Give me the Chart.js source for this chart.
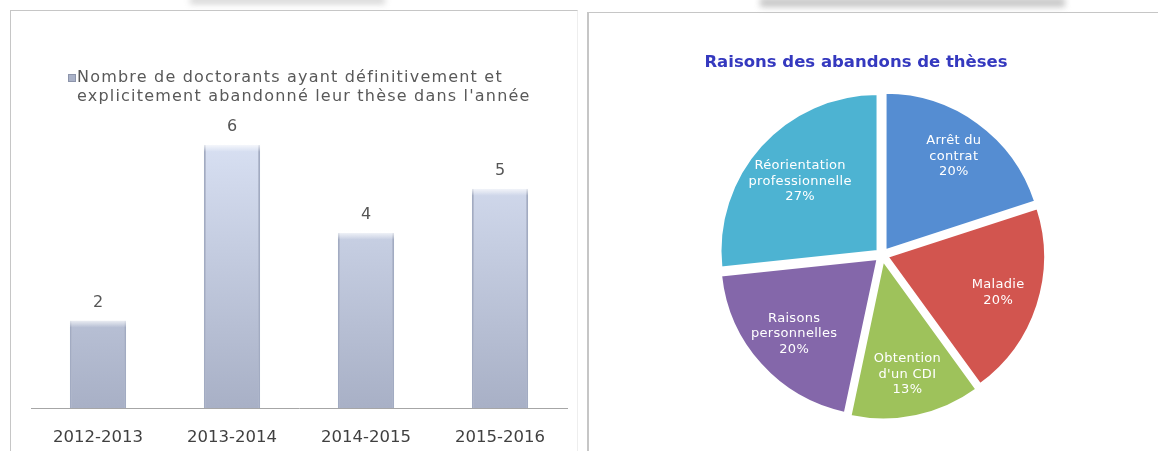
<!DOCTYPE html>
<html>
<head>
<meta charset="utf-8">
<script src="https://cdn.jsdelivr.net/npm/chart.js@4.4.0/dist/chart.umd.min.js"></script>
<style>
  body { margin: 0; width: 1158px; height: 451px; background: #fff; position: relative; overflow: hidden; }
  .box { position: absolute; box-sizing: border-box; }
  #leftBox { left: 10px; top: 10px; width: 568px; height: 441px; border-left: 1px solid #c6c6c6; border-top: 1px solid #c6c6c6; border-right: 1px solid #eeeeee; }
  #rightBox { left: 587px; top: 12px; width: 571px; height: 439px; border-left: 2px solid #c6c6c6; border-top: 1px solid #c6c6c6; }
  .smudge { position: absolute; background: #a0a0a0; filter: blur(3px); }
  canvas { position: absolute; }
  #barChart { left: 11px; top: 11px; }
  #pieChart { left: 588px; top: 12px; }
</style>
</head>
<body>
<div class="smudge" style="left:190px;top:-3px;width:195px;height:7px;opacity:.45"></div>
<div class="smudge" style="left:760px;top:-2px;width:305px;height:9px;opacity:.6"></div>
<div class="box" id="leftBox"></div>
<div class="box" id="rightBox"></div>
<canvas id="barChart" width="566" height="462"></canvas>
<canvas id="pieChart" width="570" height="439"></canvas>
<script>
// bar chart data
const years = ['2012-2013', '2013-2014', '2014-2015', '2015-2016'];
const abandons = [2, 6, 4, 5];
const legendLines = ['Nombre de doctorants ayant définitivement et', 'explicitement abandonné leur thèse dans l\'année'];

// pie chart data
const raisons = [['Arrêt du', 'contrat'], ['Maladie'], ['Obtention', 'd\'un CDI'], ['Raisons', 'personnelles'], ['Réorientation', 'professionnelle']];
const raisonsCount = [3, 3, 2, 3, 4];
const raisonsColors = ['#558dd2', '#d2554f', '#9ec25b', '#8467aa', '#4db3d2'];
const pieTitle = 'Raisons des abandons de thèses';

const barDeco = {
    id: 'barDeco',
    afterDatasetsDraw(chart) {
        const ctx = chart.ctx;
        const meta = chart.getDatasetMeta(0);
        ctx.save();
        meta.data.forEach((bar, i) => {
            const w = bar.width;
            // light cap on top of each bar
            const g = ctx.createLinearGradient(0, bar.y - 2, 0, bar.y + 7);
            g.addColorStop(0, 'rgba(255,255,255,0.95)');
            g.addColorStop(1, 'rgba(255,255,255,0)');
            ctx.fillStyle = g;
            ctx.fillRect(bar.x - w / 2 - 1, bar.y - 2, w + 2, 9);
            ctx.fillStyle = '#555';
            ctx.font = '16px "DejaVu Sans"';
            ctx.textAlign = 'center';
            ctx.textBaseline = 'middle';
            ctx.fillText(String(abandons[i]), bar.x, bar.y - 18);
        });
        // legend
        ctx.fillStyle = '#aab2c8';
        ctx.fillRect(57, 63, 8, 8);
        ctx.strokeStyle = '#8d95ab';
        ctx.lineWidth = 1;
        ctx.strokeRect(57.5, 63.5, 7, 7);
        ctx.fillStyle = '#595959';
        ctx.font = '16px "DejaVu Sans"';
        ctx.letterSpacing = '1.2px';
        ctx.textAlign = 'left';
        ctx.textBaseline = 'middle';
        ctx.fillText(legendLines[0], 66, 67);
        ctx.fillText(legendLines[1], 66, 86);
        ctx.restore();
    }
};

new Chart(document.getElementById('barChart'), {
    type: 'bar',
    data: {
        labels: years,
        datasets: [{
            data: abandons,
            backgroundColor: (c) => {
                const area = c.chart.chartArea;
                if (!area) return '#c3cbe0';
                const g = c.chart.ctx.createLinearGradient(0, area.top, 0, area.bottom);
                g.addColorStop(0, '#dfe7f9');
                g.addColorStop(1, '#a8b0c6');
                return g;
            },
            borderColor: '#a2abc2',
            borderWidth: { left: 2, right: 2, top: 0, bottom: 0 },
            borderSkipped: false,
            barPercentage: 0.84,
            categoryPercentage: 0.5
        }]
    },
    options: {
        responsive: false,
        animation: false,
        layout: { padding: { left: 20, right: 10, top: 90, bottom: 5 } },
        plugins: { legend: { display: false }, tooltip: { enabled: false } },
        scales: {
            x: {
                grid: { display: false, drawTicks: false },
                border: { display: true, color: '#a6a6a6', width: 1 },
                ticks: { color: '#404040', padding: 20, font: { family: 'DejaVu Sans', size: 16.5 } }
            },
            y: { display: false, min: 0, max: 7 }
        }
    },
    plugins: [barDeco]
});

const pieDeco = {
    id: 'pieDeco',
    afterDatasetsDraw(chart) {
        const ctx = chart.ctx;
        const meta = chart.getDatasetMeta(0);
        const total = raisonsCount.reduce((a, b) => a + b, 0);
        const lh = 15.5;
        const shift = 6;
        ctx.save();
        ctx.fillStyle = '#fff';
        ctx.font = '13px "DejaVu Sans"';
        ctx.letterSpacing = '0.3px';
        ctx.textAlign = 'center';
        ctx.textBaseline = 'middle';
        meta.data.forEach((arc, i) => {
            const p = arc.getProps(['x', 'y', 'startAngle', 'endAngle', 'outerRadius']);
            const mid = (p.startAngle + p.endAngle) / 2;
            const lines = raisons[i].concat([Math.round(raisonsCount[i] / total * 100) + '%']);
            const bw = Math.max(...lines.map(t => ctx.measureText(t).width));
            const bh = (lines.length - 1) * lh + 10;
            // pull the label in until its box sits inside the pie
            let d = p.outerRadius * 0.74;
            const fits = (dd) => {
                const cx = Math.cos(mid) * dd, cy = Math.sin(mid) * dd;
                return [[-1, -1], [1, -1], [-1, 1], [1, 1]].every(([sx, sy]) =>
                    Math.hypot(cx + sx * bw / 2, cy + sy * bh / 2) <= p.outerRadius + 2);
            };
            while (d > p.outerRadius * 0.3 && !fits(d)) d -= 2;
            const cx = p.x + Math.cos(mid) * (d + shift);
            const cy = p.y + Math.sin(mid) * (d + shift);
            lines.forEach((t, k) => {
                ctx.fillText(t, cx, cy + (k - (lines.length - 1) / 2) * lh);
            });
        });
        ctx.letterSpacing = '0px';
        ctx.fillStyle = '#3539bf';
        ctx.font = 'bold 16.5px "DejaVu Sans"';
        ctx.fillText(pieTitle, 268, 51);
        ctx.restore();
    }
};

new Chart(document.getElementById('pieChart'), {
    type: 'pie',
    data: {
        labels: raisons.map(r => r.join(' ')),
        datasets: [{
            data: raisonsCount,
            backgroundColor: raisonsColors,
            borderColor: '#fff',
            borderWidth: 2,
            offset: 24,
            radius: 157
        }]
    },
    options: {
        responsive: false,
        animation: false,
        layout: { padding: { left: 124, right: 106, top: 73, bottom: 26 } },
        plugins: { legend: { display: false }, tooltip: { enabled: false } }
    },
    plugins: [pieDeco]
});
</script>
</body>
</html>
